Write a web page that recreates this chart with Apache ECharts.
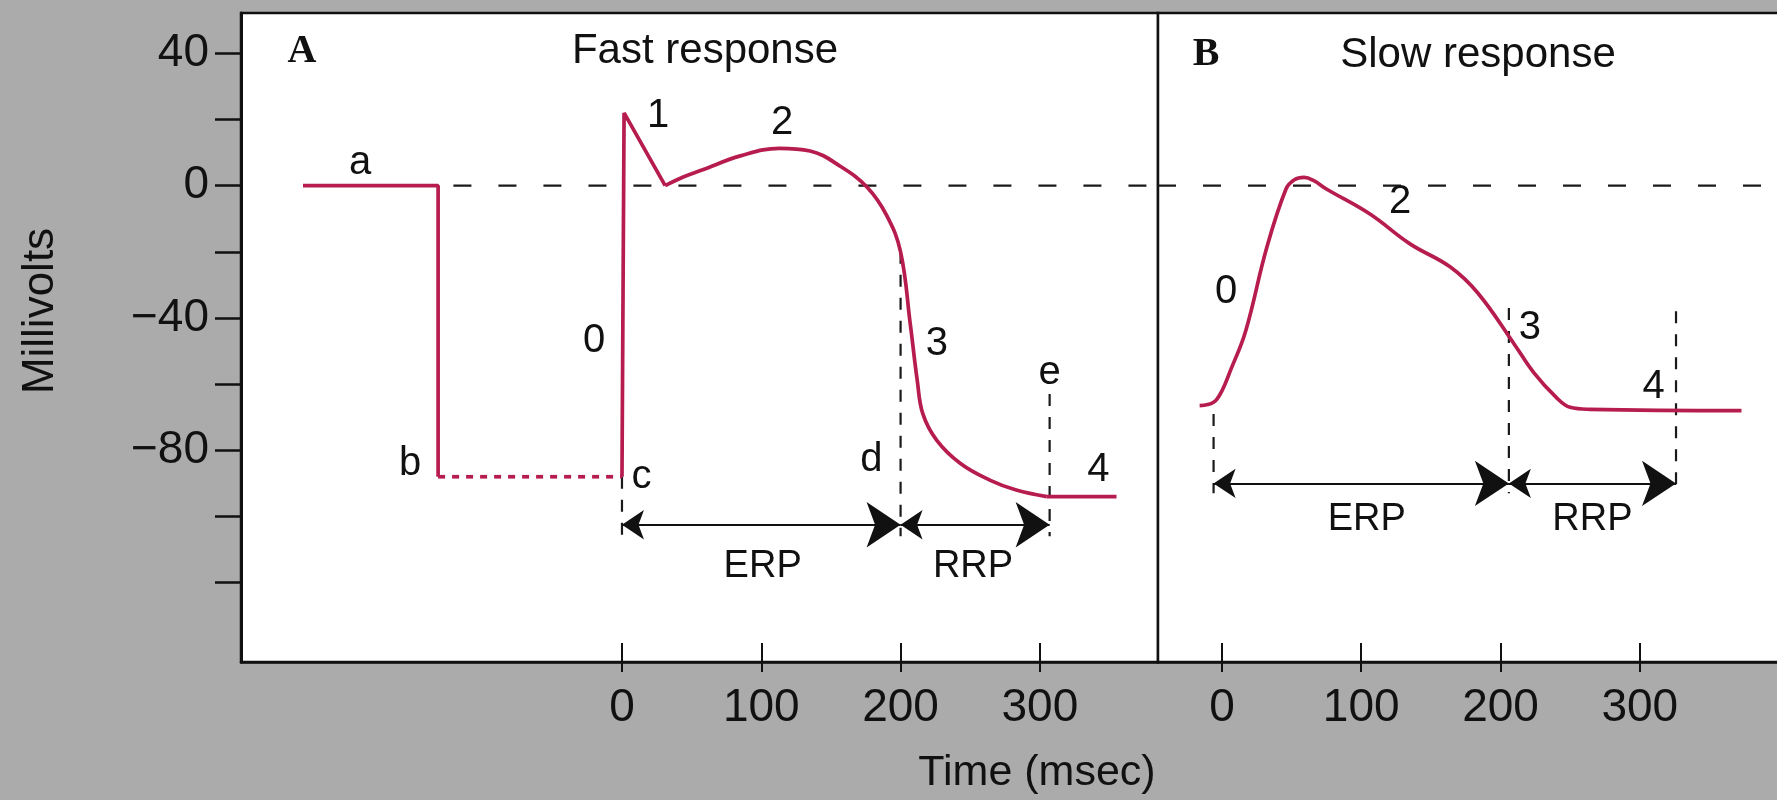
<!DOCTYPE html>
<html><head><meta charset="utf-8">
<script src="https://cdn.jsdelivr.net/npm/echarts@6/dist/echarts.min.js"></script>
<style>html,body{margin:0;padding:0;background:#ababab;} #c{width:1777px;height:800px;}</style>
</head><body><div id="c"></div>
<script>
// ---------- data (time in ms, potential in mV) ----------
const xTicks = [0, 100, 200, 300];
const yTicks = [40, 20, 0, -20, -40, -60, -80, -100, -120];
const yLabels = [40, 0, -40, -80];

// Panel A: fast response
const fastRest = [[-229, 0], [-132, 0], [-132, -88]];
const fastSub = [[-132, -88], [0, -88]];
const fastSpike = [[0, -88], [1.5, 22], [31, 0]];
const fastPlateau = [[31, 0], [44, 2.6], [58, 4.8], [85, 9], [113, 11.3], [135, 10.5], [157, 5.8], [176, -0.5], [190, -9], [200, -20], [207, -42], [212, -59], [216, -69], [226, -77], [243, -84], [264, -89], [283, -92], [305, -94]];
const fastTail = [[305, -94], [355, -94]];

// Panel B: slow response
const slowAP = [[-16, -66.5], [-6, -65.5], [0, -62], [6, -56], [17, -44], [32, -19], [46, -1], [52, 1.8], [59, 2.5], [66, 1.5], [75, -1], [106, -8.5], [135, -17.6], [164, -24.6], [184, -32.6], [210, -48], [224, -56.6], [240, -64], [250, -67], [264, -67.6], [373, -68]];

// reference lines and periods
const zeroA = [[-121, 0], [384.8, 0]];
const zeroB = [[-45.9, 0], [402.8, 0]];
const guidesA = [[0, -88, -106], [200, -20, -106], [307, -63, -106]];   // [x, yTop, yBottom]
const guidesB = [[-6, -69, -93], [206, -37, -93], [326, -38, -93]];
const periodsA = [[0, 200, -102.5], [200, 307, -102.5]];               // [xStart, xEnd, y]
const periodsB = [[-6, 206, -90], [206, 326, -90]];

const labelsA = [['a', -188, 7], ['b', -152, -84], ['c', 14, -88], ['d', 179, -83], ['e', 307, -56.6], ['4', 342, -86], ['0', -20, -47], ['1', 26, 21], ['2', 115, 19], ['3', 226, -48]];
const labelsB = [['0', 3, -32], ['2', 128, -5], ['3', 221, -43], ['4', 310, -61]];
const periodLabelsA = [['ERP', 101, -115], ['RRP', 252, -115]];
const periodLabelsB = [['ERP', 104, -101], ['RRP', 266, -101]];

// ---------- chart ----------
const RED = '#b61c4d', INK = '#111';
const FONT = '"Liberation Sans", Arial, sans-serif';
const chart = echarts.init(document.getElementById('c'), null, {renderer: 'canvas'});
const yMin = -144, yMax = 52.2;
const xA = [-273.5, 384.8], xB = [-45.9, 402.8];

function xAxisMain(grid, r) {
  return {type: 'value', gridIndex: grid, min: r[0], max: r[1], position: 'bottom',
    axisLine: {show: true, onZero: false, lineStyle: {color: INK, width: 2.5}},
    axisTick: {show: true, inside: true, length: 19, customValues: xTicks, lineStyle: {color: INK, width: 2}},
    axisLabel: {show: true, customValues: xTicks, margin: 23, fontSize: 46, color: INK, fontFamily: FONT},
    splitLine: {show: false}};
}
function xAxisOuter(grid, r) {
  return {type: 'value', gridIndex: grid, min: r[0], max: r[1], position: 'bottom', offset: 0,
    axisLine: {show: false, onZero: false}, axisLabel: {show: false}, splitLine: {show: false},
    axisTick: {show: true, inside: false, length: 10, customValues: xTicks, lineStyle: {color: INK, width: 2}}};
}

function lineS(data, xi, yi, extra) {
  return Object.assign({type: 'line', xAxisIndex: xi, yAxisIndex: yi, data: data, symbol: 'none',
    silent: true, animation: false, z: 5,
    lineStyle: {color: RED, width: 3.7}}, extra || {});
}
function dashS(data, xi, yi, dash) {
  return {type: 'line', xAxisIndex: xi, yAxisIndex: yi, data: data, symbol: 'none', silent: true,
    animation: false, z: 3, lineStyle: {color: '#1a1a1a', width: 2.2, type: dash}};
}
function periodS(p, xi, yi) {
  return {type: 'lines', coordinateSystem: 'cartesian2d', xAxisIndex: xi, yAxisIndex: yi, silent: true,
    animation: false, z: 4, symbol: ['arrow', 'arrow'], symbolSize: [22, 34],
    lineStyle: {color: INK, width: 2, opacity: 1},
    data: p.map(d => ({coords: [[d[0], d[2]], [d[1], d[2]]]}))};
}
function labelS(arr, xi, yi, size) {
  return {type: 'scatter', xAxisIndex: xi, yAxisIndex: yi, symbolSize: 0, silent: true, animation: false, z: 6,
    itemStyle: {opacity: 1},
    data: arr.map(d => ({name: d[0], value: [d[1], d[2]]})),
    label: {show: true, position: 'inside', formatter: '{b}', fontSize: size, color: INK, opacity: 1, fontFamily: FONT}};
}

const series = [
  lineS(fastRest, 0, 0),
  lineS(fastSub, 0, 0, {lineStyle: {color: RED, width: 3.7, type: [7, 7]}}),
  lineS(fastSpike, 0, 0),
  lineS(fastPlateau, 0, 0, {smooth: 0.4}),
  lineS(fastTail, 0, 0),
  lineS(slowAP, 1, 1, {smooth: 0.4}),
  dashS(zeroA, 0, 0, [18, 27]),
  dashS(zeroB, 1, 1, [18, 27]),
  ...guidesA.map(g => dashS([[g[0], g[1]], [g[0], g[2]]], 0, 0, [12, 11])),
  ...guidesB.map(g => dashS([[g[0], g[1]], [g[0], g[2]]], 1, 1, [12, 11])),
  periodS(periodsA, 0, 0),
  periodS(periodsB, 1, 1),
  labelS(labelsA, 0, 0, 40),
  labelS(labelsB, 1, 1, 40),
  labelS(periodLabelsA, 0, 0, 38),
  labelS(periodLabelsB, 1, 1, 38)
];

chart.setOption({
  backgroundColor: '#ababab',
  animation: false,
  textStyle: {fontFamily: FONT},
  grid: [
    {left: 241, top: 13, width: 917, height: 649, show: true, backgroundColor: '#ffffff', borderColor: INK, borderWidth: 2.5, containLabel: false, outerBoundsMode: 'none'},
    {left: 1158, top: 13, width: 625, height: 649, show: true, backgroundColor: '#ffffff', borderColor: INK, borderWidth: 2.5, containLabel: false, outerBoundsMode: 'none'}
  ],
  xAxis: [xAxisMain(0, xA), xAxisMain(1, xB), xAxisOuter(0, xA), xAxisOuter(1, xB)],
  yAxis: [
    {type: 'value', gridIndex: 0, min: yMin, max: yMax, position: 'left',
      axisLine: {show: true, onZero: false, lineStyle: {color: INK, width: 3}},
      axisTick: {show: true, inside: false, length: 26, customValues: yTicks, lineStyle: {color: INK, width: 2.5}},
      axisLabel: {show: true, customValues: yLabels, margin: 32, fontSize: 46, color: INK, fontFamily: FONT,
        formatter: v => (v < 0 ? '\u2212' + (-v) : String(v))},
      splitLine: {show: false}},
    {type: 'value', gridIndex: 1, min: yMin, max: yMax, show: false, axisLine: {onZero: false}, splitLine: {show: false}}
  ],
  graphic: [
    {type: 'text', x: 705, y: 51, silent: true, style: {text: 'Fast response', fontSize: 42, fontFamily: FONT, fill: INK, align: 'center', verticalAlign: 'middle', textAlign: 'center', textVerticalAlign: 'middle'}},
    {type: 'text', x: 1478, y: 55, silent: true, style: {text: 'Slow response', fontSize: 42, fontFamily: FONT, fill: INK, align: 'center', verticalAlign: 'middle', textAlign: 'center', textVerticalAlign: 'middle'}},
    {type: 'text', x: 302, y: 52, silent: true, style: {text: 'A', fontSize: 40, fontWeight: 'bold', fontFamily: '"Liberation Serif", serif', fill: INK, align: 'center', verticalAlign: 'middle', textAlign: 'center', textVerticalAlign: 'middle'}},
    {type: 'text', x: 1206, y: 55, silent: true, style: {text: 'B', fontSize: 40, fontWeight: 'bold', fontFamily: '"Liberation Serif", serif', fill: INK, align: 'center', verticalAlign: 'middle', textAlign: 'center', textVerticalAlign: 'middle'}},
    {type: 'text', x: 41, y: 311, rotation: Math.PI / 2, silent: true, style: {text: 'Millivolts', fontSize: 44, fontFamily: FONT, fill: INK, align: 'center', verticalAlign: 'middle', textAlign: 'center', textVerticalAlign: 'middle'}},
    {type: 'text', x: 1037, y: 773, silent: true, style: {text: 'Time (msec)', fontSize: 43, fontFamily: FONT, fill: INK, align: 'center', verticalAlign: 'middle', textAlign: 'center', textVerticalAlign: 'middle'}}
  ],
  series: series
});
</script></body></html>
